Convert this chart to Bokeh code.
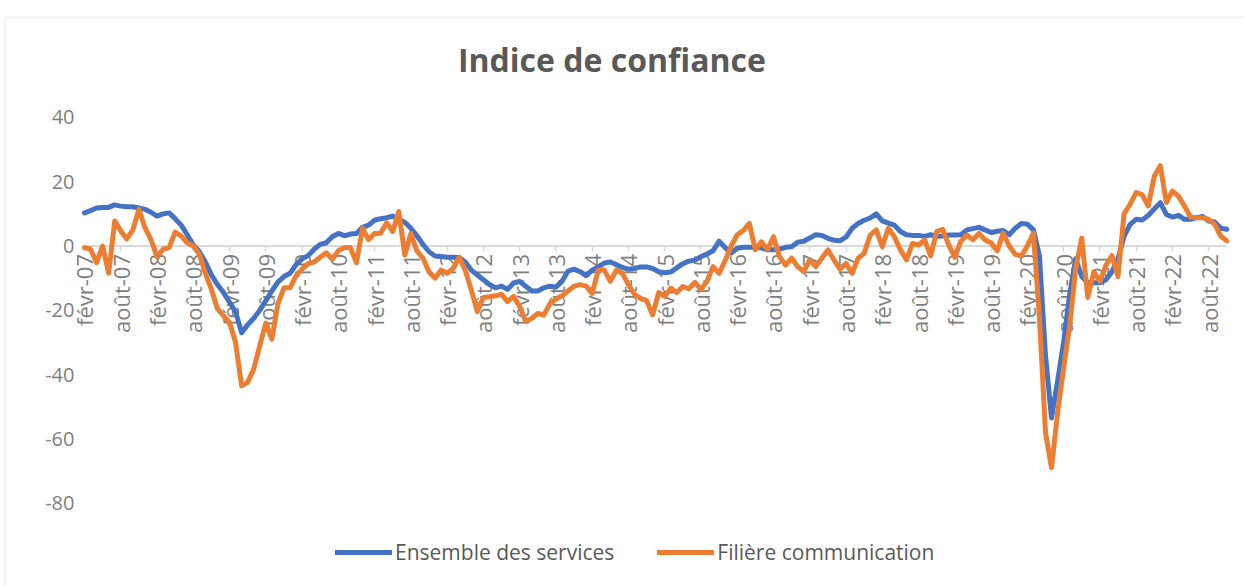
import math
from bokeh.plotting import figure
from bokeh.models import (Range1d, FixedTicker, Legend, LegendItem, ColumnDataSource,
                          Label, BoxAnnotation)
from bokeh.embed import file_html
from bokeh.resources import INLINE

# Monthly index: 0 = févr-07 ... 189 = nov-22
tick_labels = ["févr-07", "août-07", "févr-08", "août-08", "févr-09", "août-09",
               "févr-10", "août-10", "févr-11", "août-11", "févr-12", "août-12",
               "févr-13", "août-13", "févr-14", "août-14", "févr-15", "août-15",
               "févr-16", "août-16", "févr-17", "août-17", "févr-18", "août-18",
               "févr-19", "août-19", "févr-20", "août-20", "févr-21", "août-21",
               "févr-22", "août-22"]

ensemble = [
    10.3, 11, 11.8, 12, 12, 12.8, 12.4, 12.2, 12.2, 11.8,
    11.4, 10.5, 9.3, 10, 10.3, 8.5, 6.5, 3.5, 0.3, -1.8,
    -5, -9, -12, -14.5, -17.5, -20.5, -27, -24.5, -22.5, -20,
    -17, -14, -11.2, -9.5, -8.5, -5.8, -4, -3, -1, 0.5,
    1, 2.9, 3.9, 3.2, 3.7, 3.9, 5.8, 6.5, 8, 8.5,
    8.8, 9.3, 8.2, 7.4, 5.5, 3.2, 0.5, -1.8, -3.1, -3.3,
    -3.5, -3.5, -3.6, -5, -7.5, -9, -10.5, -12, -13, -12.5,
    -13.5, -11.5, -11, -12.5, -14, -14, -13, -12.5, -12.8, -11,
    -7.8, -7.2, -8, -9.2, -7.5, -6.5, -5.3, -5, -5.8, -6.7,
    -7.2, -7, -6.5, -6.5, -7, -8, -8.3, -8.1, -6.8, -5.5,
    -4.7, -4.4, -3.3, -2.5, -1.5, 1.5, -0.5, -2.2, -0.7, -0.4,
    -0.4, -0.4, -0.6, -1.2, -1.2, -1, -0.4, -0.2, 1.2, 1.5,
    2.5, 3.5, 3.3, 2.4, 1.8, 1.6, 2.8, 5.5, 7, 8,
    8.7, 10, 7.8, 7.1, 6.5, 4.5, 3.5, 3.3, 3.3, 3,
    3.5, 3, 3.1, 3.4, 3.4, 3.5, 5, 5.4, 5.8, 5,
    4.2, 4.6, 4.8, 3.5, 5.5, 7, 6.8, 5, -3, -34,
    -53.5, -42, -30, -15, -4, -9.5, -11.4, -11.4, -11.4, -10.5,
    -8, -4, 3, 6.7, 8.3, 8.1, 9.5, 11.5, 13.5, 9.8,
    9, 9.5, 8.3, 8.3, 8.8, 9.2, 7.8, 7.5, 5.5, 5.2,
]

filiere = [
    -0.5, -1, -5.2, 0, -8.5, 7.8, 4.7, 2.2, 5, 11.4,
    5.7, 2, -3.3, -1, -0.5, 4.3, 3.1, 1, 0, -2.5,
    -8.5, -13.5, -19.5, -21.7, -23.8, -30, -43.5, -42.4, -38.3, -31,
    -24, -29, -18, -13, -13, -9.3, -7.2, -5.5, -5, -3.5,
    -2.1, -4.1, -1.5, -0.5, -0.5, -5.2, 5.5, 2, 3.9, 4,
    7.2, 4.5, 10.7, -2.8, 3.9, -1.5, -3.8, -8, -10, -7.5,
    -8.5, -7, -3.5, -7.5, -13.7, -20.4, -16, -15.8, -15.5, -15,
    -17.3, -15.7, -18.8, -23.5, -22.5, -21, -21.5, -18, -16.5, -15.5,
    -14, -12.5, -12, -12.5, -14.7, -7.5, -7.5, -11, -7.5, -8.5,
    -12, -15, -16.3, -17, -21.4, -14.5, -15.7, -13.1, -14.5, -12.6,
    -13.3, -11.3, -13.5, -11, -6.4, -8.5, -4.5, 0, 3.5, 4.8,
    7, -1.2, 1.3, -1.2, 2.9, -3.3, -5.9, -3.8, -6.4, -8,
    -4.3, -6.4, -3.8, -1.2, -4.3, -7.2, -5.4, -8.5, -3.8, -2.3,
    3.4, 5, -0.2, 5.5, 2.9, -1.2, -4.3, 0.8, 0.3, 1.9,
    -3.1, 4.5, 5.2, 0.3, -3.5, 1.5, 3.4, 1.9, 3.9, 1.9,
    1, -1.5, 4, 0, -2.6, -3.1, 0, 4, -22, -58,
    -69, -52, -38, -25, -7, 2.5, -16, -8, -11, -6,
    -3, -9.5, 10, 13, 16.6, 16, 12.4, 21.7, 25, 13.5,
    17.1, 15.5, 12.4, 9, 8.8, 8.8, 8.3, 6.7, 3.1, 1.6,
]

y_ticks = [-80, -60, -40, -20, 0, 20, 40]
series_names = ["Ensemble des services", "Filière communication"]
title_text = "Indice de confiance"

n = len(ensemble)
month_index = list(range(n))
tick_positions = list(range(0, 6 * len(tick_labels), 6))

src = ColumnDataSource(data=dict(x=month_index, ens=ensemble, fil=filiere))

# The plot frame fills the whole canvas; axes are pinned at x=0 / y=0.
p = figure(width=1244, height=586,
           x_range=Range1d(-13.898, 191.93), y_range=Range1d(-105.91, 76.36),
           output_backend="svg", toolbar_location=None,
           min_border_left=0, min_border_right=0,
           min_border_top=0, min_border_bottom=0)

p.outline_line_color = None
p.xgrid.visible = False
p.ygrid.visible = False
p.background_fill_color = "white"
p.border_fill_color = "white"

# category axis line (from first to last month)
p.segment(x0=[month_index[0]], x1=[month_index[-1]], y0=[0], y1=[0],
          line_color="#d9d9d9", line_width=2, level="underlay")

xa = p.xaxis[0]
xa.fixed_location = 0
xa.ticker = FixedTicker(ticks=tick_positions)
xa.major_label_overrides = {pos: lab for pos, lab in zip(tick_positions, tick_labels)}
xa.major_label_orientation = math.pi / 2
xa.axis_line_color = None
xa.major_tick_line_color = "#d9d9d9"
xa.major_tick_line_width = 1.5
xa.major_tick_out = 6
xa.major_tick_in = 0
xa.minor_tick_line_color = None
xa.major_label_text_color = "#7f7f7f"
xa.major_label_text_font = "Open Sans"
xa.major_label_text_font_size = "22px"
xa.major_label_standoff = 2
xa.level = "underlay"

ya = p.yaxis[0]
ya.fixed_location = 0
ya.ticker = FixedTicker(ticks=y_ticks)
ya.major_label_overrides = {t: str(t) for t in y_ticks}
ya.axis_line_color = None
ya.major_tick_line_color = None
ya.minor_tick_line_color = None
ya.major_tick_out = 0
ya.major_tick_in = 0
ya.major_label_standoff = 10
ya.major_label_text_color = "#7f7f7f"
ya.major_label_text_font = "Open Sans"
ya.major_label_text_font_size = "20px"

# chart-area border (top and left edges)
p.add_layout(BoxAnnotation(left=-13.24, right=220, top=71.07, bottom=-220,
                           fill_alpha=0, line_color="#d9d9d9", line_width=2,
                           level="underlay"))

r1 = p.line(x="x", y="ens", source=src, line_color="#4472C4", line_width=5,
            line_join="round", line_cap="round")
r2 = p.line(x="x", y="fil", source=src, line_color="#ED7D31", line_width=5,
            line_join="round", line_cap="round")

p.add_layout(Label(x=87.27, y=58.0, text=title_text, text_align="center",
                   text_baseline="middle", text_font="Open Sans",
                   text_font_size="32px", text_font_style="bold",
                   text_color="#595959"))

legend = Legend(items=[LegendItem(label=series_names[0], renderers=[r1]),
                       LegendItem(label=series_names[1], renderers=[r2])],
                location=(335, 20), orientation="horizontal",
                glyph_width=57, glyph_height=20, label_standoff=3, spacing=43,
                padding=0, margin=0, border_line_color=None,
                background_fill_alpha=0,
                label_text_font="Open Sans", label_text_font_size="21px",
                label_text_color="#595959")
p.add_layout(legend, "center")

open("out.html", "w").write(file_html(p, INLINE))
